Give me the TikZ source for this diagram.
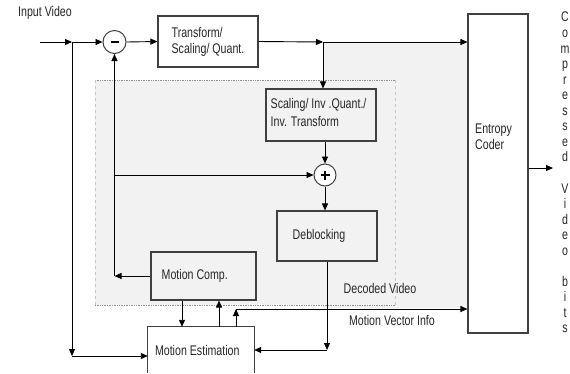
\documentclass[tikz,border=0pt]{standalone}
\usepackage{fontspec}
\setmainfont{Liberation Sans}[FakeStretch=0.76]
\usetikzlibrary{arrows.meta}
\definecolor{bggray}{HTML}{F2F2F2}
\definecolor{boxline}{HTML}{404040}
\definecolor{dotline}{HTML}{909090}
\begin{document}
\begin{tikzpicture}[x=1pt,y=-1pt,
  font=\fontsize{14}{16}\selectfont,
  box/.style={draw=boxline, line width=1.1pt, inner sep=0pt},
  conn/.style={line width=0.9pt, -{Triangle[length=7pt,width=6pt]}},
  lbl/.style={inner sep=0pt, text=black!85},
  txt/.style={inner sep=0pt, anchor=west, align=left, text=black!85}]
\useasboundingbox (0,0) rectangle (570,373);
% shaded regions
\fill[bggray] (95,80) rectangle (395,305);
\fill[bggray] (323,42) rectangle (468,308);
\draw[dotline, densely dotted, line width=0.7pt] (95,80) -- (395,80);
\draw[dotline, densely dotted, line width=0.7pt] (95,305) -- (395,305);
\draw[gray!45, dashed, line width=0.6pt] (95,80) -- (95,305);
\draw[gray!45, dashed, line width=0.6pt] (395,80) -- (395,305);

% blocks
\node[box, fill=white, minimum width=100pt, minimum height=51pt] (trans) at (208,41.5) {};
\node[txt] (transtext) at ([xshift=14pt]trans.west) {Transform/\\Scaling/ Quant.};
\node[box, fill=bggray, minimum width=110pt, minimum height=52pt] (scal) at (321,115) {};
\node[txt, font=\fontsize{14}{18}\selectfont] (scaltext) at ([xshift=5pt,yshift=3pt]scal.west) {Scaling/ Inv .Quant./\\Inv. Transform};
\node[box, fill=bggray, minimum width=100pt, minimum height=50pt] (deb) at (327,236) {};
\node[txt] (debtext) at ([xshift=16pt]deb.west) {Deblocking};
\node[box, fill=bggray, minimum width=105pt, minimum height=48pt] (mc) at (203.5,276) {};
\node[txt] (mctext) at ([xshift=11pt]mc.west) {Motion Comp.};
\node[inner sep=0pt, fill=white, minimum width=106pt, minimum height=46pt] (me) at (201,350) {};
\draw[boxline, line width=1.1pt] (me.south west) -- (me.north west) -- (me.north east) -- (me.south east);
\node[txt] (metext) at ([xshift=7pt]me.west) {Motion Estimation};
\node[box, fill=white, minimum width=60pt, minimum height=319pt] (entropy) at (498,173.5) {};
\node[txt] (enttext) at (475,137) {Entropy\\Coder};

% summing junctions
\node[circle, draw=boxline, line width=1pt, minimum size=23pt, inner sep=0pt, fill=white] (minus) at (114.5,42) {\rule{8pt}{1.8pt}};
\node[circle, draw=boxline, line width=1pt, minimum size=22pt, inner sep=0pt, fill=white] (plus) at (325,175)
  {\makebox[0pt]{\rule[-4pt]{1.5pt}{9pt}}\makebox[0pt]{\rule[-0.25pt]{9pt}{1.5pt}}};

% helper coordinates
\coordinate (in0) at (40,42);
\coordinate (split) at (72,42);
\coordinate (br1) at (323,42);
\coordinate (fb) at (114.5,276);
\coordinate (d2) at (327,350);
\coordinate (dn) at (72,356);
\coordinate (a1) at (182,0);
\coordinate (a2) at (219,0);
\coordinate (mv) at (236,309);
\coordinate (out) at (553,168);

% connectors
\draw[conn] (in0) -- (split);
\draw[conn] (split) -- (minus.west);
\draw[conn] (minus.east) -- (trans.west);
\draw[conn] (trans.east) -- (br1);
\draw[conn] (br1) -- (br1 -| entropy.west);
\draw[conn] (br1) -- (br1 |- scal.north);
\draw[conn] (plus.north |- scal.south) -- (plus.north);
\draw[conn] (plus.south) -- (plus.south |- deb.north);
\draw[conn] (mc.west |- fb) -- (fb);
\draw[conn] (fb) -- (minus.south);
\draw[conn] (fb |- plus.west) -- (plus.west);
\draw[conn] (deb.south) -- (d2);
\draw[conn] (d2) -- (d2 -| me.east);
\draw[conn] (split) -- (dn);
\draw[conn] (dn) -- (dn -| me.west);
\draw[conn] (mc.south -| a1) -- (me.north -| a1);
\draw[conn] (me.north -| a2) -- (mc.south -| a2);
\draw[conn] (me.north -| mv) -- (mv);
\draw[conn] (mv) -- (mv -| entropy.west);
\draw[conn] (entropy.east |- out) -- (out);

% labels
\node[lbl] (inlbl) at (45,13) {Input Video};
\node[lbl] (declbl) at (380,288) {Decoded Video};
\node[lbl] (mvlbl) at (392,320) {Motion Vector Info};
\node[lbl, anchor=north, align=center, font=\fontsize{14}{15.55}\selectfont] (bits) at (565,12)
  {C\\o\\m\\p\\r\\e\\s\\s\\e\\d\\\mbox{}\\V\\i\\d\\e\\o\\\mbox{}\\b\\i\\t\\s};
\end{tikzpicture}
\end{document}
